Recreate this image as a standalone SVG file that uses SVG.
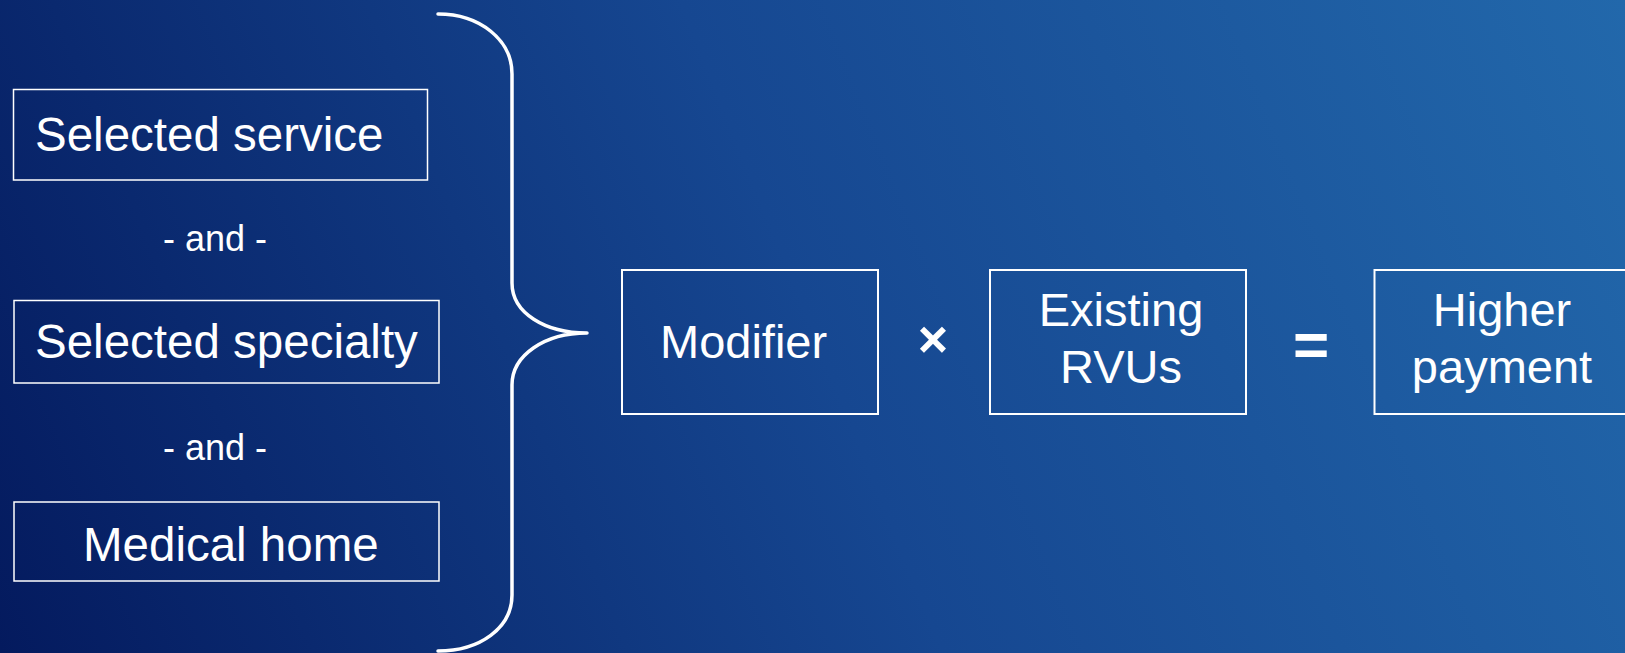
<svg xmlns="http://www.w3.org/2000/svg" width="1625" height="653" viewBox="0 0 1625 653">
  <defs>
    <linearGradient id="bg" gradientUnits="userSpaceOnUse" x1="0" y1="653" x2="1625" y2="0">
      <stop offset="0" stop-color="#041a5e"/>
      <stop offset="0.5" stop-color="#164791"/>
      <stop offset="1" stop-color="#2268ab"/>
    </linearGradient>
    <style>
      .lbox { fill: none; stroke: #ffffff; stroke-width: 1.5; }
      .rbox { fill: none; stroke: #ffffff; stroke-width: 2; }
      .t { font-family: "Liberation Sans", Arial, sans-serif; fill: #ffffff; }
      .big { font-size: 47.5px; }
      .med { font-size: 47px; }
      .and { font-size: 36px; }
      .op { font-weight: bold; }
      .brace { fill: none; stroke: #ffffff; stroke-width: 3.5; stroke-linecap: round; stroke-linejoin: round; }
    </style>
  </defs>
  <rect x="0" y="0" width="1625" height="653" fill="url(#bg)"/>

  <g id="node-selected-service">
    <rect class="lbox" x="13.5" y="89.5" width="414" height="90.5"/>
    <text class="t big" x="35" y="151">Selected service</text>
  </g>
  <g id="and-1">
    <text class="t and" x="215" y="251" text-anchor="middle">- and -</text>
  </g>
  <g id="node-selected-specialty">
    <rect class="lbox" x="14" y="300.5" width="425" height="82.5"/>
    <text class="t big" x="35" y="358">Selected specialty</text>
  </g>
  <g id="and-2">
    <text class="t and" x="215" y="460" text-anchor="middle">- and -</text>
  </g>
  <g id="node-medical-home">
    <rect class="lbox" x="14" y="502" width="425" height="79"/>
    <text class="t big" x="83" y="561">Medical home</text>
  </g>

  <g id="connectors">
    <path class="brace" d="M 438 14 C 480 14, 512 40, 512 74 L 512 283 C 512 313, 545 333, 587 333 C 545 333, 512 355, 512 385 L 512 595 C 512 628, 480 651, 438 651"/>
  </g>

  <g id="node-modifier">
    <rect class="rbox" x="622" y="270" width="256" height="144"/>
    <text class="t med" x="660" y="358">Modifier</text>
  </g>
  <g id="op-times">
    <text class="t op" x="933" y="357" font-size="52" text-anchor="middle">×</text>
  </g>
  <g id="node-existing-rvus">
    <rect class="rbox" x="990" y="270" width="256" height="144"/>
    <text class="t med" x="1121" y="326" text-anchor="middle">Existing</text>
    <text class="t med" x="1121" y="383" text-anchor="middle">RVUs</text>
  </g>
  <g id="op-equals">
    <text class="t op" x="1311" y="366" font-size="62" text-anchor="middle">=</text>
  </g>
  <g id="node-higher-payment">
    <rect class="rbox" x="1374.5" y="270" width="258" height="144"/>
    <text class="t med" x="1502" y="326" text-anchor="middle">Higher</text>
    <text class="t med" x="1502" y="383" text-anchor="middle">payment</text>
  </g>
</svg>
